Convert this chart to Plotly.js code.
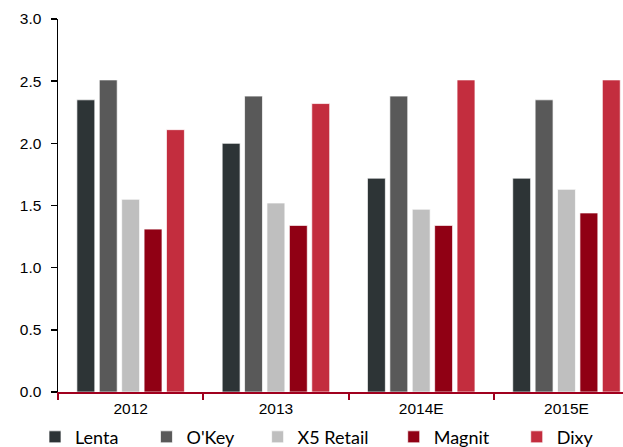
<!DOCTYPE html>
<html>
<head>
<meta charset="utf-8">
<script src="https://cdn.plot.ly/plotly-3.0.1.min.js"></script>
<style>html,body{margin:0;padding:0;background:#fff;}#chart{width:623px;height:447px;}</style>
</head>
<body>
<div id="chart"></div>
<script>
var categories = ["2012", "2013", "2014E", "2015E"];
var seriesNames = ["Lenta", "O'Key", "X5 Retail", "Magnit", "Dixy"];
var lenta  = [2.35, 2.00, 1.72, 1.72];
var okey   = [2.51, 2.38, 2.38, 2.35];
var x5     = [1.55, 1.52, 1.47, 1.63];
var magnit = [1.31, 1.34, 1.34, 1.44];
var dixy   = [2.11, 2.32, 2.51, 2.51];
var yTicks = [0, 0.5, 1.0, 1.5, 2.0, 2.5, 3.0];
var yTickLabels = ["0.0", "0.5", "1.0", "1.5", "2.0", "2.5", "3.0"];

var colors = ["#2D3436", "#595959", "#BFBFBF", "#900014", "#C32D3E"];
var values = [lenta, okey, x5, magnit, dixy];
var legendX = [-0.0407, 0.1566, 0.3533, 0.5942, 0.8119];
var legendKeys = ["legend", "legend2", "legend3", "legend4", "legend5"];

var tickFont = {family: "Liberation Sans, Arial, sans-serif", size: 15.5, color: "#000"};
var legFont = {family: "Lato, Open Sans, sans-serif", size: 18, color: "#000"};

var traces = values.map(function (v, i) {
  return {
    type: "bar",
    name: seriesNames[i],
    x: categories,
    y: v,
    marker: {color: colors[i], line: {color: "rgba(255,255,255,0.7)", width: 1}},
    legend: legendKeys[i],
    hoverinfo: "skip"
  };
});

var layout = {
  width: 623,
  height: 447,
  margin: {l: 58, r: 0, t: 19, b: 55, pad: 0, autoexpand: false},
  paper_bgcolor: "#fff",
  plot_bgcolor: "#fff",
  barmode: "group",
  bargap: 0.229,
  bargroupgap: 0.2,
  showlegend: true,
  xaxis: {
    type: "category",
    range: [-0.5, 3.389],
    showgrid: false,
    zeroline: false,
    showline: true,
    linecolor: "#A0001E",
    linewidth: 2,
    ticks: "outside",
    tickson: "boundaries",
    ticklen: 6,
    tickwidth: 2,
    tickcolor: "#A0001E",
    tickfont: tickFont,
    ticklabelstandoff: 1,
    fixedrange: true
  },
  yaxis: {
    range: [0, 3],
    tickvals: yTicks,
    ticktext: yTickLabels,
    showgrid: false,
    zeroline: false,
    showline: true,
    linecolor: "#000",
    linewidth: 1.5,
    ticks: "outside",
    ticklen: 6,
    tickwidth: 1.5,
    tickcolor: "#000",
    tickfont: tickFont,
    ticklabelstandoff: 6,
    fixedrange: true
  }
};

legendKeys.forEach(function (k, i) {
  layout[k] = {
    x: legendX[i],
    xanchor: "left",
    y: -0.121,
    yanchor: "middle",
    orientation: "h",
    font: legFont,
    bgcolor: "rgba(0,0,0,0)",
    borderwidth: 0
  };
});

Plotly.newPlot("chart", traces, layout, {displayModeBar: false, staticPlot: true});
</script>
</body>
</html>
